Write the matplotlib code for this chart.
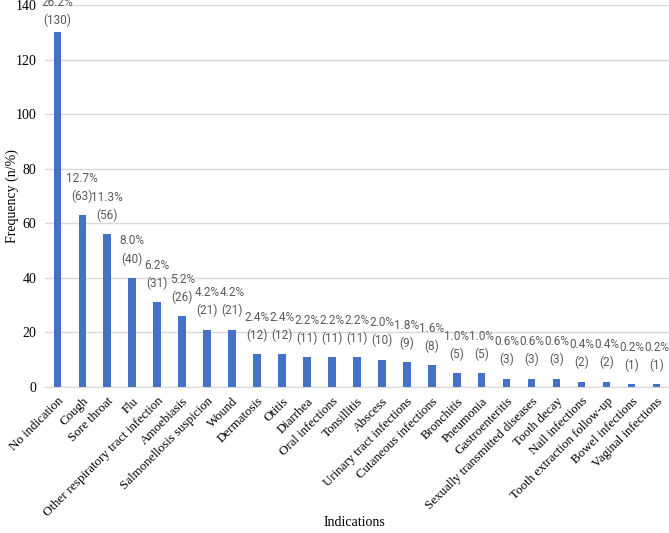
import matplotlib.pyplot as plt
import matplotlib.transforms as mtransforms
import numpy as np

# indications and counts
indications = ['No indication', 'Cough', 'Sore throat', 'Flu',
               'Other respiratory tract infection', 'Amoebiasis',
               'Salmonellosis suspicion', 'Wound', 'Dermatosis', 'Otitis',
               'Diarrhea', 'Oral infections', 'Tonsillitis', 'Abscess',
               'Urinary tract infections', 'Cutaneous infections', 'Bronchitis',
               'Pneumonia', 'Gastroenteritis', 'Sexually transmitted diseases',
               'Tooth decay', 'Nail infections', 'Tooth extraction follow-up',
               'Bowel infections', 'Vaginal infections']
counts = [130, 63, 56, 40, 31, 26, 21, 21, 12, 12, 11, 11, 11, 10, 9, 8,
          5, 5, 3, 3, 3, 2, 2, 1, 1]
percents = ['26.2%', '12.7%', '11.3%', '8.0%', '6.2%', '5.2%', '4.2%', '4.2%',
            '2.4%', '2.4%', '2.2%', '2.2%', '2.2%', '2.0%', '1.8%', '1.6%',
            '1.0%', '1.0%', '0.6%', '0.6%', '0.6%', '0.4%', '0.4%', '0.2%', '0.2%']
yticks = [0, 20, 40, 60, 80, 100, 120, 140]

fig = plt.figure(figsize=(6.69, 5.33), dpi=100)
ax = fig.add_axes([0.067, 0.274, 0.933, 0.7166])

x = np.arange(len(indications))
bars = ax.bar(x, counts, width=0.3, color='#4472C4', zorder=3)

# data labels above bars (tallest one squeezed under the top, like excel)
for xi, c, p in zip(x, counts, percents):
    ax.text(xi, min(c + 4.5, 132), p + '\n(' + str(c) + ')', ha='center', va='bottom',
            fontsize=8.5, color='#595959', family='Roboto',
            linespacing=1.45)

ax.set_xlim(-0.5, len(indications) - 0.5)
ax.set_ylim(0, 140)
ax.set_yticks(yticks)
ax.set_yticklabels([str(t) for t in yticks], family='Liberation Serif', fontsize=10)
ax.set_xticks(x)
ax.set_xticklabels(indications, rotation=45, ha='right', rotation_mode='anchor',
                   family='Liberation Serif', fontsize=9.4)
# shift the rotated labels a bit right like excel does
shift = mtransforms.ScaledTranslation(6 / 100, 0, fig.dpi_scale_trans)
for lab in ax.get_xticklabels():
    lab.set_transform(lab.get_transform() + shift)
ax.tick_params(axis='both', length=0, pad=6)
ax.grid(axis='y', color='#D9D9D9', linewidth=1, zorder=0)
for s in ['top', 'right', 'left']:
    ax.spines[s].set_visible(False)
ax.spines['bottom'].set_color('#D9D9D9')

ax.set_ylabel('Frequency (n/%)', family='Liberation Serif', fontsize=10)
ax.yaxis.set_label_coords(-0.042, 0.5)
fig.text(0.53, 0.0206, 'Indications', ha='center', va='center',
         family='Liberation Serif', fontsize=10)

fig.savefig('out.png', dpi=100)
